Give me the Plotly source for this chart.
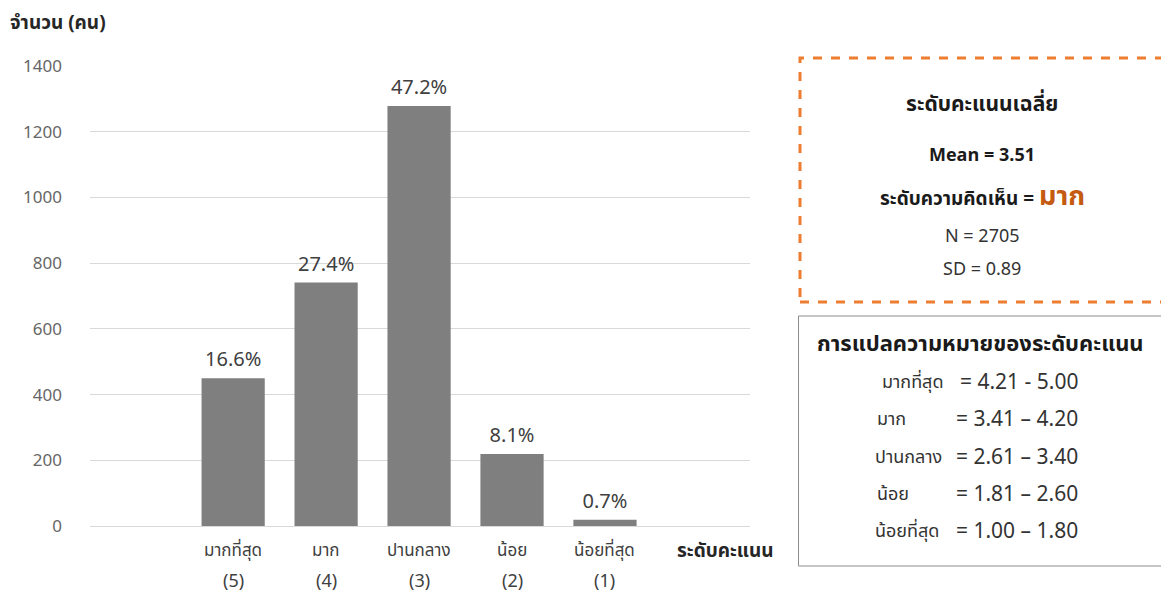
import plotly.graph_objects as go

categories = ["มากที่สุด", "มาก", "ปานกลาง", "น้อย", "น้อยที่สุด"]
codes = ["(5)", "(4)", "(3)", "(2)", "(1)"]
counts = [450, 741, 1278, 219, 19]
percents = ["16.6%", "27.4%", "47.2%", "8.1%", "0.7%"]
positions = [1, 2, 3, 4, 5]
y_ticks = [0, 200, 400, 600, 800, 1000, 1200, 1400]

summary_title = "ระดับคะแนนเฉลี่ย"
mean_text = "Mean = 3.51"
level_label = "ระดับความคิดเห็น = "
level_value = "มาก"
n_text = "N = 2705"
sd_text = "SD = 0.89"

interp_title = "การแปลความหมายของระดับคะแนน"
interp_labels = ["มากที่สุด", "มาก", "ปานกลาง", "น้อย", "น้อยที่สุด"]
interp_ranges = ["= 4.21 - 5.00", "= 3.41 – 4.20", "= 2.61 – 3.40", "= 1.81 – 2.60", "= 1.00 – 1.80"]

W, H = 1161, 595
FONT = "Tahoma, 'Leelawadee UI', 'Noto Sans Thai', 'Noto Sans', sans-serif"

def px(x):
    return x / W

def py(y):
    return 1 - y / H

def ann(text, x, y, size, color, xanchor="center", xref="paper"):
    return dict(text=text, x=x, y=py(y), xref=xref, yref="paper", xanchor=xanchor,
                yanchor="middle", showarrow=False,
                font=dict(size=size, color=color, family=FONT))

fig = go.Figure()
fig.add_trace(go.Bar(
    x=positions, y=counts, text=percents, textposition="outside",
    textfont=dict(size=20, color="#404040", family=FONT),
    marker=dict(color="#7F7F7F", line=dict(width=0)),
    width=0.68, cliponaxis=False, hoverinfo="skip",
))

fig.update_layout(
    width=W, height=H,
    margin=dict(l=0, r=0, t=0, b=0),
    paper_bgcolor="white", plot_bgcolor="white",
    showlegend=False,
    font=dict(family=FONT, color="#595959"),
    xaxis=dict(domain=[px(90), px(750)], range=[-0.54, 6.56], showticklabels=False,
               showgrid=False, zeroline=False, showline=False, automargin=False),
    yaxis=dict(domain=[py(526), py(66)], range=[0, 1400], tickvals=y_ticks,
               showgrid=True, gridcolor="#D9D9D9", gridwidth=1, zeroline=True,
               zerolinecolor="#D9D9D9", zerolinewidth=1, showline=False,
               tickfont=dict(size=17, color="#666666", family=FONT),
               ticks="", ticklabelstandoff=27, automargin=False),
)

annotations = []
annotations.append(ann("<b>จำนวน (คน)</b>", px(8), 24, 19, "#262626", xanchor="left"))
for p, c, code in zip(positions, categories, codes):
    annotations.append(ann(c, p, 551, 17, "#404040", xref="x"))
    annotations.append(ann(code, p, 581, 18, "#404040", xref="x"))
annotations.append(ann("<b>ระดับคะแนน</b>", px(725), 551, 19, "#262626"))

cx = px(982)
annotations.append(ann("<b>" + summary_title + "</b>", cx, 104, 21, "#1a1a1a"))
annotations.append(ann("<b>" + mean_text + "</b>", cx, 156, 18, "#1a1a1a"))
annotations.append(ann("<b>" + level_label + "<span style='color:#C55A11;font-size:27px'>" + level_value + "</span></b>",
                       cx, 197, 19, "#1a1a1a"))
annotations.append(ann(n_text, cx, 237, 18, "#333333"))
annotations.append(ann(sd_text, cx, 270, 18, "#333333"))

annotations.append(ann("<b>" + interp_title + "</b>", px(981), 344, 22, "#1a1a1a"))
row_y = [382, 419, 457, 494, 531]
label_x = [880, 875, 873, 875, 873]
for lab, rng, ry, lx in zip(interp_labels, interp_ranges, row_y, label_x):
    annotations.append(ann(lab, px(lx), ry, 18, "#333333", xanchor="left"))
    annotations.append(ann(rng, px(1080), ry, 21, "#333333", xanchor="right"))
fig.update_layout(annotations=annotations)

fig.add_shape(type="rect", xref="paper", yref="paper", x0=px(800), x1=px(1175), y0=py(302), y1=py(58),
              line=dict(color="#ED7D31", width=3, dash="dash"), fillcolor="rgba(0,0,0,0)")
fig.add_shape(type="rect", xref="paper", yref="paper", x0=px(798.5), x1=px(1162), y0=py(566), y1=py(316),
              line=dict(color="#8C8C8C", width=1), fillcolor="rgba(0,0,0,0)")

fig.write_html("out.html", config={"displayModeBar": False},
               post_script="document.body.style.margin='0';document.body.style.overflow='hidden';")
